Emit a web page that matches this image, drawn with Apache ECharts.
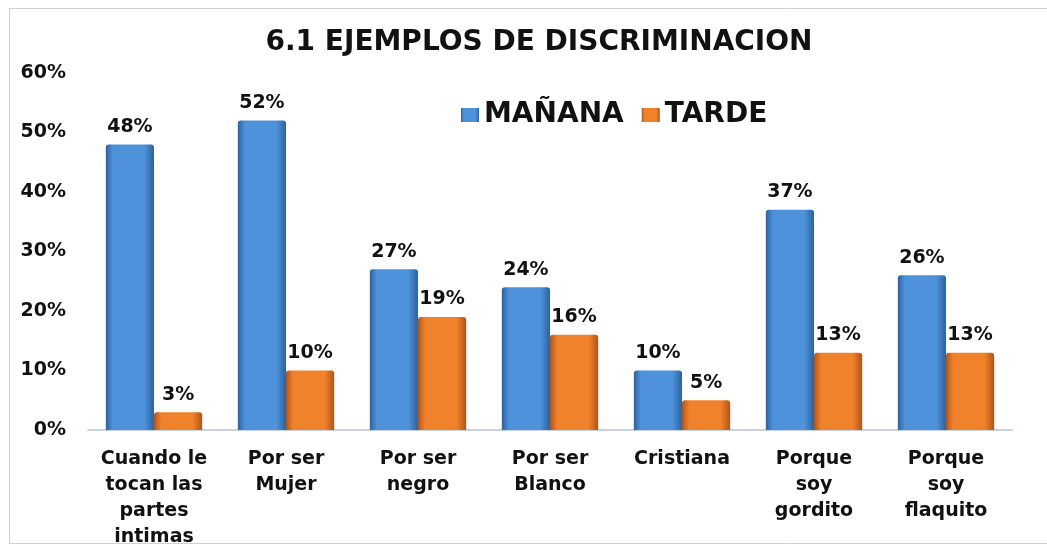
<!DOCTYPE html>
<html>
<head>
<meta charset="utf-8">
<script src="https://cdn.jsdelivr.net/npm/echarts@6/dist/echarts.min.js"></script>
<style>
  html, body { margin: 0; padding: 0; background: #fff; }
  #chart { width: 1047px; height: 545px; }
</style>
</head>
<body>
<div id="chart"></div>
<script>
// datos
var categorias = [
    'Cuando le\ntocan las\npartes\nintimas',
    'Por ser\nMujer',
    'Por ser\nnegro',
    'Por ser\nBlanco',
    'Cristiana',
    'Porque\nsoy\ngordito',
    'Porque\nsoy\nflaquito'
];
var manana = [48, 52, 27, 24, 10, 37, 26];
var tarde = [3, 10, 19, 16, 5, 13, 13];
var ticksY = [0, 10, 20, 30, 40, 50, 60];

var fuente = 'DejaVu Sans, Liberation Sans, Arial, sans-serif';

function degradado(oscuro, claro) {
    return new echarts.graphic.LinearGradient(0, 0, 1, 0, [
        {offset: 0, color: oscuro},
        {offset: 0.15, color: claro},
        {offset: 0.8, color: claro},
        {offset: 1, color: oscuro}
    ]);
}

var myChart = echarts.init(document.getElementById('chart'));
myChart.setOption({
    backgroundColor: '#fff',
    animation: false,
    graphic: [{
        type: 'rect',
        shape: {x: 9.5, y: 8.5, width: 1045, height: 535},
        style: {fill: 'none', stroke: '#d0d0d0', lineWidth: 1},
        silent: true
    }],
    title: {
        text: '6.1 EJEMPLOS DE DISCRIMINACION',
        left: 534,
        textAlign: 'center',
        top: 24,
        textStyle: {fontFamily: fuente, fontSize: 28, fontWeight: 'bold', color: '#111'}
    },
    legend: {
        data: ['MAÑANA', 'TARDE'],
        left: 456,
        top: 96,
        icon: 'rect',
        itemWidth: 18,
        itemHeight: 14,
        itemGap: 18,
        textStyle: {fontFamily: fuente, fontSize: 28, fontWeight: 'bold', color: '#111'}
    },
    grid: {left: 88, right: 35, top: 73, bottom: 115, outerBoundsMode: 'none'},
    xAxis: {
        type: 'category',
        data: categorias,
        axisLine: {lineStyle: {color: '#c8d4e4', width: 2}},
        axisTick: {show: false},
        axisLabel: {
            interval: 0,
            margin: 16,
            fontFamily: fuente,
            fontSize: 19,
            fontWeight: 'bold',
            color: '#111',
            lineHeight: 26
        }
    },
    yAxis: {
        type: 'value',
        min: ticksY[0],
        max: ticksY[ticksY.length - 1],
        interval: 10,
        splitLine: {show: false},
        axisLine: {show: false},
        axisTick: {show: false},
        axisLabel: {
            margin: 22,
            formatter: '{value}%',
            fontFamily: fuente,
            fontSize: 19,
            fontWeight: 'bold',
            color: '#111'
        }
    },
    series: [
        {
            name: 'MAÑANA',
            type: 'bar',
            data: manana,
            barGap: '0%',
            barCategoryGap: '27%',
            itemStyle: {
                color: degradado('#2d629e', '#4d92da'),
                borderRadius: [3, 3, 0, 0]
            },
            label: {
                show: true,
                position: 'top',
                distance: 8,
                formatter: '{c}%',
                fontFamily: fuente,
                fontSize: 19,
                fontWeight: 'bold',
                color: '#111'
            }
        },
        {
            name: 'TARDE',
            type: 'bar',
            data: tarde,
            itemStyle: {
                color: degradado('#b0541a', '#f0822c'),
                borderRadius: [3, 3, 0, 0]
            },
            label: {
                show: true,
                position: 'top',
                distance: 8,
                formatter: '{c}%',
                fontFamily: fuente,
                fontSize: 19,
                fontWeight: 'bold',
                color: '#111'
            }
        }
    ]
});
</script>
</body>
</html>
